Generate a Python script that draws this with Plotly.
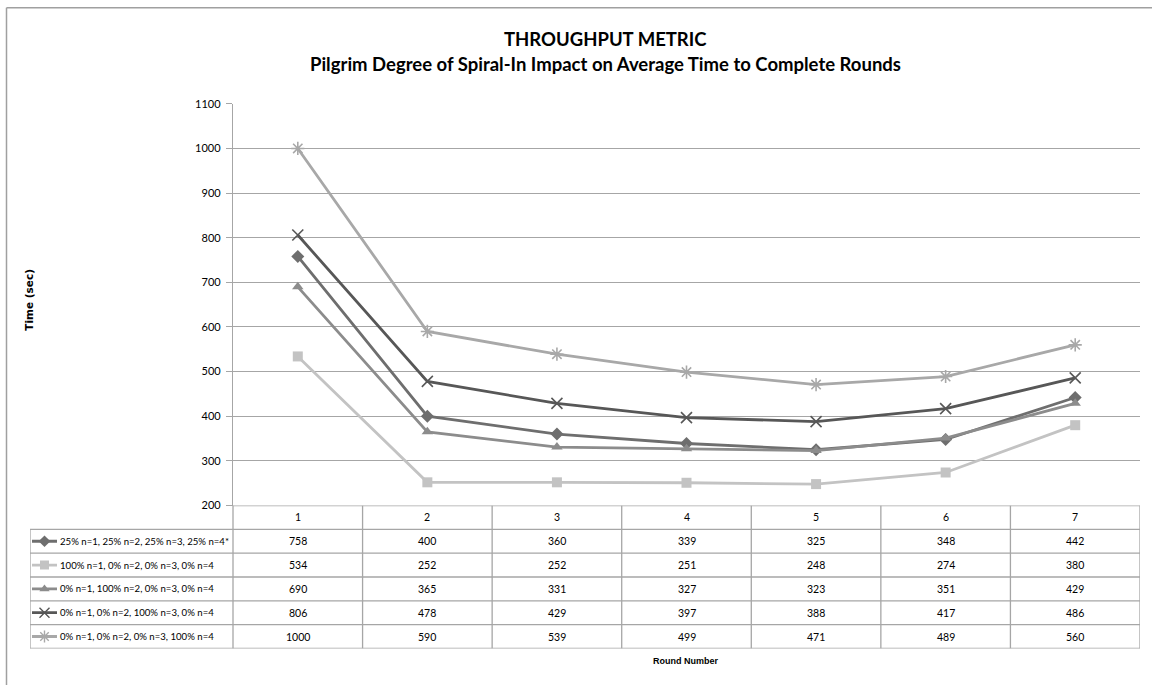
import plotly.graph_objects as go

# ---------------- data ----------------
rounds = ["1", "2", "3", "4", "5", "6", "7"]
series_names = [
    "25% n=1, 25% n=2, 25% n=3, 25% n=4*",
    "100% n=1, 0% n=2, 0% n=3, 0% n=4",
    "0% n=1, 100% n=2, 0% n=3, 0% n=4",
    "0% n=1, 0% n=2, 100% n=3, 0% n=4",
    "0% n=1, 0% n=2, 0% n=3, 100% n=4",
]
s_mix = [758, 400, 360, 339, 325, 348, 442]
s_n1 = [534, 252, 252, 251, 248, 274, 380]
s_n2 = [690, 365, 331, 327, 323, 351, 429]
s_n3 = [806, 478, 429, 397, 388, 417, 486]
s_n4 = [1000, 590, 539, 499, 471, 489, 560]
series_values = [s_mix, s_n1, s_n2, s_n3, s_n4]

title_line1 = "THROUGHPUT METRIC"
title_line2 = "Pilgrim Degree of Spiral-In Impact on Average Time to Complete Rounds"
y_title = "Time (sec)"
x_title = "Round Number"

# ---------------- styles ----------------
W, H = 1152, 685
colors = ["#6e6e6e", "#c3c3c3", "#8c8c8c", "#575757", "#a8a8a8"]
symbols = ["diamond", "square", "triangle-up", "x-thin-open", "asterisk-open"]
msizes = [10, 10, 10, 11, 11]
grid = "#a6a6a6"
FONT = "Lato"
TFS = 10.5  # table value font size
LFS = 9.6   # table row label font size
KFS = 11    # tick font size


def Y(py):
    # page rendering compresses vertically a little; map target pixel rows
    return (py - 6.13) / 0.9817


def fx(px):
    return px / W


def fy(py):
    return 1 - Y(py) / H


# plot area / table geometry (pixels, as seen in the target picture)
PL, PR, PT, PB = 233, 1140, 103, 505
TL, TB = 30, 648
col_w = (PR - PL) / len(rounds)
xmin = -0.5 - (PL - TL) / col_w


def u(px):
    return (px - TL) / col_w + xmin


xi = list(range(len(rounds)))

fig = go.Figure()

for i, (name, vals) in enumerate(zip(series_names, series_values)):
    line_sym = symbols[i].endswith("open")
    fig.add_trace(go.Scatter(
        x=xi, y=vals, mode="lines+markers", name=name,
        line=dict(color=colors[i], width=2.8),
        marker=dict(symbol=symbols[i], size=msizes[i], color=colors[i],
                    line=dict(color=colors[i], width=1.6 if line_sym else 0)),
        xaxis="x", yaxis="y", showlegend=False, cliponaxis=False,
    ))
    # legend key inside the data table
    fig.add_trace(go.Scatter(
        x=[u(32), u(57)], y=[i + 1, i + 1], mode="lines",
        line=dict(color=colors[i], width=2.8),
        xaxis="x2", yaxis="y2", showlegend=False, hoverinfo="skip",
    ))
    fig.add_trace(go.Scatter(
        x=[u(44.5)], y=[i + 1], mode="markers",
        marker=dict(symbol=symbols[i], size=msizes[i] - 1, color=colors[i],
                    line=dict(color=colors[i], width=1.4 if line_sym else 0)),
        xaxis="x2", yaxis="y2", showlegend=False, hoverinfo="skip",
    ))

annotations = []
# header row (category labels)
for j, r in enumerate(rounds):
    annotations.append(dict(x=j, y=0, xref="x2", yref="y2", text=r, showarrow=False,
                            xanchor="center", yanchor="middle",
                            font=dict(family=FONT, size=TFS, color="#000")))
# table values and labels
for i, (name, vals) in enumerate(zip(series_names, series_values)):
    annotations.append(dict(x=u(57.5), y=i + 1, xref="x2", yref="y2", text=name,
                            xanchor="left", yanchor="middle", showarrow=False,
                            font=dict(family=FONT, size=LFS, color="#000")))
    for j, v in enumerate(vals):
        annotations.append(dict(x=j, y=i + 1, xref="x2", yref="y2", text=str(v),
                                xanchor="center", yanchor="middle", showarrow=False,
                                font=dict(family=FONT, size=TFS, color="#000")))

# titles
annotations += [
    dict(x=fx(605), y=fy(38), xref="paper", yref="paper", text="<b>" + title_line1 + "</b>",
         xanchor="center", yanchor="middle", showarrow=False,
         font=dict(family=FONT, size=18.5, color="#000")),
    dict(x=fx(605), y=fy(63), xref="paper", yref="paper", text="<b>" + title_line2 + "</b>",
         xanchor="center", yanchor="middle", showarrow=False,
         font=dict(family=FONT, size=18.5, color="#000")),
    dict(x=fx(685), y=fy(661), xref="paper", yref="paper", text="<b>" + x_title + "</b>",
         xanchor="center", yanchor="middle", showarrow=False,
         font=dict(family="Liberation Sans", size=9, color="#000")),
    dict(x=fx(29), y=fy(299), xref="paper", yref="paper", text="<b>" + y_title + "</b>",
         xanchor="center", yanchor="middle",
         textangle=-90, showarrow=False, font=dict(family="DejaVu Sans", size=10.5, color="#000")),
]

shapes = []
lc = dict(color=grid, width=1.3)
# table horizontal lines
shapes.append(dict(type="line", xref="x2", yref="y2", x0=-0.5, x1=6.5, y0=-0.5, y1=-0.5, line=lc))
for k in range(len(series_names) + 1):
    shapes.append(dict(type="line", xref="x2", yref="y2", x0=xmin, x1=6.5,
                       y0=k + 0.5, y1=k + 0.5, line=lc))
# table vertical lines
for j in range(len(rounds) + 1):
    shapes.append(dict(type="line", xref="x2", yref="y2", x0=j - 0.5, x1=j - 0.5,
                       y0=-0.5, y1=len(series_names) + 0.5, line=lc))
shapes.append(dict(type="line", xref="x2", yref="y2", x0=xmin, x1=xmin,
                   y0=0.5, y1=len(series_names) + 0.5, line=lc))
# outer chart border (only top and left visible)
shapes.append(dict(type="line", xref="paper", yref="paper", x0=fx(6.5), x1=1.01,
                   y0=fy(7), y1=fy(7), line=dict(color="#a0a0a0", width=1.5)))
shapes.append(dict(type="line", xref="paper", yref="paper", x0=fx(6.5), x1=fx(6.5),
                   y0=fy(7), y1=-0.01, line=dict(color="#a0a0a0", width=1.5)))

fig.update_layout(
    width=W, height=H,
    margin=dict(l=0, r=0, t=0, b=0),
    paper_bgcolor="white", plot_bgcolor="white",
    font=dict(family=FONT, color="#000"),
    xaxis=dict(domain=[fx(PL), fx(PR)], range=[-0.5, 6.5], showgrid=False,
               zeroline=False, showticklabels=False, ticks="", showline=False),
    yaxis=dict(domain=[fy(PB), fy(PT)], range=[200, 1100], dtick=100,
               showgrid=True, gridcolor=grid, gridwidth=1.3, zeroline=False,
               showline=True, linecolor=grid, linewidth=1.3,
               ticks="outside", ticklen=6, tickcolor=grid, tickwidth=1.3,
               tickfont=dict(family=FONT, size=KFS, color="#000"), ticklabelstandoff=3),
    xaxis2=dict(domain=[fx(TL), fx(PR)], range=[xmin, 6.5], visible=False,
                anchor="y2", fixedrange=True),
    yaxis2=dict(domain=[fy(TB), fy(PB)], range=[len(series_names) + 0.5, -0.5],
                visible=False, anchor="x2", fixedrange=True),
    annotations=annotations,
    shapes=shapes,
    showlegend=False,
)

fig.write_html(
    "out.html",
    config={"displayModeBar": False},
    post_script="document.body.style.margin='0';document.body.style.padding='0';"
                "document.documentElement.style.overflow='hidden';",
)
